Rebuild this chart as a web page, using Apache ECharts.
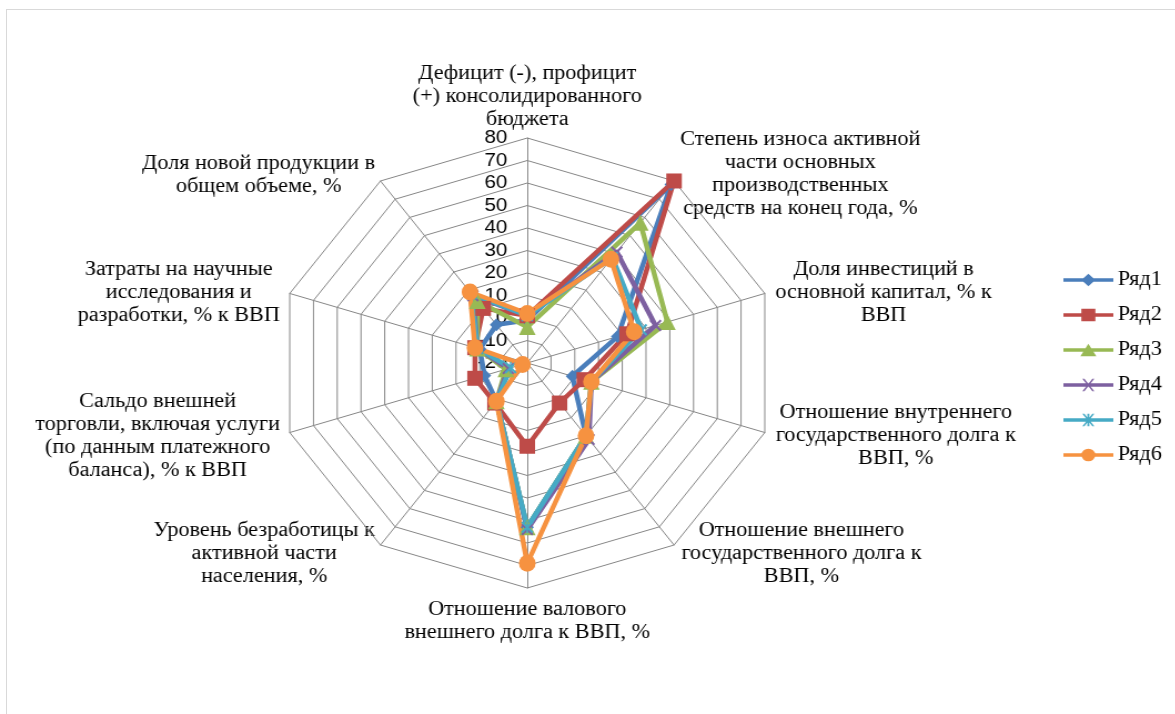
<!DOCTYPE html>
<html>
<head>
<meta charset="utf-8">
<script src="https://cdn.jsdelivr.net/npm/echarts@6/dist/echarts.min.js"></script>
<style>
  html, body { margin: 0; padding: 0; background: #fff; overflow: hidden; }
  .frame { position: absolute; left: 6px; top: 9px; width: 1180px; height: 720px; border: 1px solid #d9d9d9; }
  /* the original picture is stretched sideways, so the chart is too */
  #chart { position: absolute; left: 0; top: 0; width: 1058px; height: 714px; transform: scaleX(1.11); transform-origin: 0 0; }
</style>
</head>
<body>
<div class="frame"></div>
<div id="chart"></div>
<script>
// axis names, clockwise from the top (line breaks as in the original)
const indicatorNames = [
  'Дефицит (-), профицит\n(+) консолидированного\nбюджета',
  'Степень износа активной\nчасти основных\nпроизводственных\nсредств на конец года, %',
  'Доля инвестиций в\nосновной капитал, % к\nВВП',
  'Отношение внутреннего\nгосударственного долга к\nВВП, %',
  'Отношение внешнего\nгосударственного долга к\nВВП, %',
  'Отношение валового\nвнешнего долга к ВВП, %',
  'Уровень безработицы к\nактивной части\nнаселения, %',
  'Сальдо внешней\nторговли, включая услуги\n(по данным платежного\nбаланса), % к ВВП',
  'Затраты на научные\nисследования и\nразработки, % к ВВП',
  'Доля новой продукции в\nобщем объеме, %',
];
const axisMin = -20;
const axisMax = 80;
const axisSplit = 10;

const seriesNames = ['Ряд1', 'Ряд2', 'Ряд3', 'Ряд4', 'Ряд5', 'Ряд6'];
const ryad1 = [-1, 78, 18, -1, 20, 53, 1, -2, 0, 1];
const ryad2 = [1, 80, 22, 4, 2, 17, 2, 2, 2, 10];
const ryad3 = [-4, 57, 39, 7, 20, 53, 1, -11, 1, 14];
const ryad4 = [1, 41, 34, 7, 22, 54, 1, -12, 1, 17];
const ryad5 = [1, 38, 28, 7, 20, 53, 1, -13, 1, 18];
const ryad6 = [2, 37, 25, 7, 20, 69, 1, -18, 2, 19];
const allValues = [ryad1, ryad2, ryad3, ryad4, ryad5, ryad6];

const colors = ['#4a7ebb', '#be4b48', '#98b954', '#7d60a0', '#46aac5', '#f69240'];

// echarts goes round anticlockwise, so feed the axes in reverse after the first
const order = indicatorNames.map((_, i) => (i === 0 ? 0 : indicatorNames.length - i));
const reorder = (arr) => order.map((k) => arr[k]);

// markers
const xMark = 'path://M0,1.5 L1.5,0 L6,4.5 L10.5,0 L12,1.5 L7.5,6 L12,10.5 L10.5,12 L6,7.5 L1.5,12 L0,10.5 L4.5,6 Z';
const starMark = 'path://M0,1.5 L1.5,0 L6,4.5 L10.5,0 L12,1.5 L7.5,6 L12,10.5 L10.5,12 L6,7.5 L1.5,12 L0,10.5 L4.5,6 Z M5.2,0 L6.8,0 L6.8,12 L5.2,12 Z';
const symbols = ['diamond', 'rect', 'triangle', xMark, starMark, 'circle'];
const symbolSizes = [[12, 13], [14, 15], [15, 16], [11, 12], [11, 12], [15, 17]];

// legend icons: line with the marker in the middle
const bar = 'M0,5 L50,5 L50,9 L0,9 Z ';
const legendIcons = [
  'path://' + bar + 'M25,0 L32,7 L25,14 L18,7 Z',
  'path://' + bar + 'M18,0 L32,0 L32,14 L18,14 Z',
  'path://' + bar + 'M25,0 L33,14 L17,14 Z',
  'path://' + bar + 'M19,0 L21,0 L31,14 L29,14 Z M29,0 L31,0 L21,14 L19,14 Z',
  'path://' + bar + 'M19,0 L21,0 L31,14 L29,14 Z M29,0 L31,0 L21,14 L19,14 Z M24,0 L26,0 L26,14 L24,14 Z',
  'path://' + bar + 'M18,7 A7,7 0 1,1 32,7 A7,7 0 1,1 18,7 Z',
];

// where the axis names sit (centre x, top y), in the unstretched chart
const namePos = [
  [475, 62], [721, 128], [796, 258], [807, 401], [722, 519],
  [475, 598], [238, 519], [142, 390], [161, 258], [233, 152],
];

const serif = '"Liberation Serif", "Times New Roman", serif';

const option = {
  animation: false,
  color: colors,
  legend: {
    orient: 'vertical',
    left: 953,
    top: 265,
    itemWidth: 45,
    itemHeight: 14,
    itemGap: 15,
    textStyle: { fontFamily: serif, fontSize: 20, color: '#000', lineHeight: 20, padding: [0, 0, 0, -1] },
    data: seriesNames.map((n, i) => ({ name: n, icon: legendIcons[i], itemStyle: { color: colors[i], borderWidth: 0 } })),
  },
  radar: {
    center: [475, 363],
    radius: 225,
    startAngle: 90,
    shape: 'polygon',
    splitNumber: axisSplit,
    axisName: { show: false },
    indicator: reorder(indicatorNames).map((n, i) => ({
      name: n,
      min: axisMin,
      max: axisMax,
      axisLabel: { show: i === 0 },
    })),
    axisLine: { lineStyle: { color: '#868686', width: 1 } },
    axisTick: { show: false },
    splitLine: { lineStyle: { color: '#868686', width: 1 } },
    splitArea: { show: false },
    axisLabel: {
      margin: 18,
      color: '#000',
      fontFamily: '"Liberation Sans", Arial, sans-serif',
      fontSize: 18.5,
    },
  },
  graphic: indicatorNames.map((n, i) => ({
    type: 'text',
    x: namePos[i][0],
    y: namePos[i][1],
    silent: true,
    style: {
      text: n,
      font: '20px ' + serif,
      lineHeight: 23,
      fill: '#000',
      textAlign: 'center',
      textVerticalAlign: 'top',
    },
  })),
  series: seriesNames.map((n, i) => ({
    name: n,
    type: 'radar',
    symbol: symbols[i],
    symbolSize: symbolSizes[i],
    lineStyle: { width: 4.5, color: colors[i] },
    itemStyle: { color: colors[i] },
    data: [{ value: reorder(allValues[i]), name: n }],
  })),
};

const myChart = echarts.init(document.getElementById('chart'));
myChart.setOption(option);
</script>
</body>
</html>
